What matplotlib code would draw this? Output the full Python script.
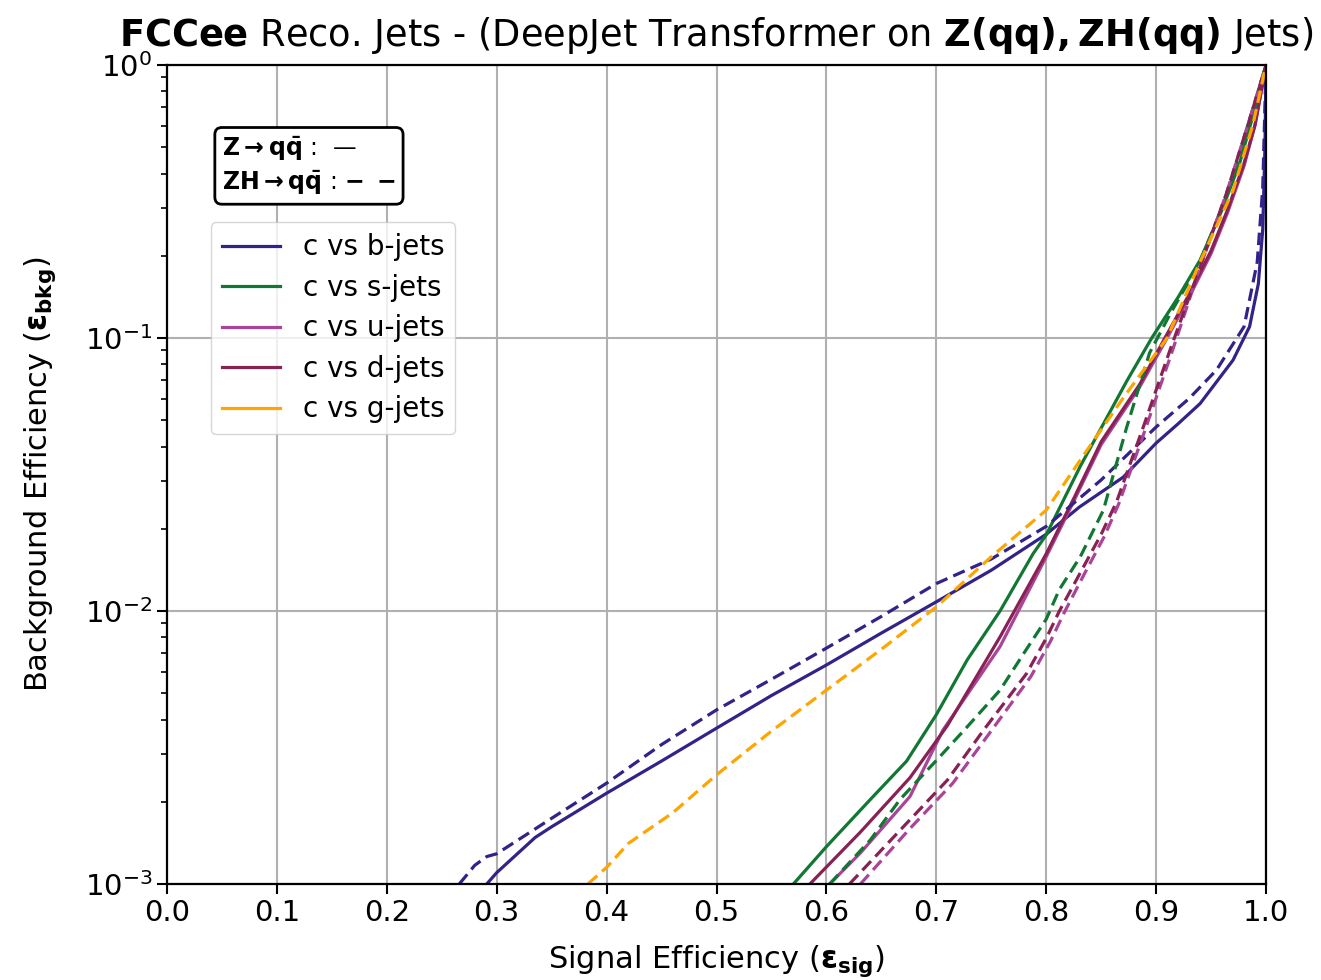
import matplotlib
matplotlib.use("Agg")
import matplotlib.pyplot as plt

# ---- data (signal efficiency, background efficiency) ----
# Z -> qq (solid)
b_z_sig = [0.291, 0.30, 0.335, 0.35, 0.40, 0.45, 0.50, 0.55, 0.60, 0.65, 0.70, 0.75, 0.80, 0.83, 0.87, 0.90, 0.92, 0.94, 0.97, 0.985, 0.993, 0.997, 0.999, 1.0]
b_z_bkg = [0.001, 0.0011, 0.00148, 0.00162, 0.00215, 0.00282, 0.00372, 0.0049, 0.00634, 0.0083, 0.0108, 0.0141, 0.0191, 0.024, 0.0309, 0.0412, 0.0485, 0.0575, 0.083, 0.11, 0.158, 0.25, 0.5, 1.0]

s_z_sig = [0.570, 0.60, 0.64, 0.673, 0.70, 0.728, 0.758, 0.788, 0.80, 0.831, 0.85, 0.873, 0.896, 0.92, 0.94, 0.96, 0.976, 0.992, 1.0]
s_z_bkg = [0.001, 0.00137, 0.00204, 0.00282, 0.00417, 0.00661, 0.01, 0.0162, 0.019, 0.0339, 0.0468, 0.0692, 0.1, 0.141, 0.193, 0.295, 0.437, 0.741, 1.0]

u_z_sig = [0.603, 0.631, 0.676, 0.706, 0.758, 0.80, 0.826, 0.85, 0.885, 0.91, 0.93, 0.95, 0.965, 0.98, 0.99, 1.0]
u_z_bkg = [0.001, 0.0013, 0.00209, 0.00366, 0.00741, 0.0158, 0.0257, 0.0407, 0.0661, 0.1, 0.141, 0.204, 0.288, 0.427, 0.603, 1.0]

d_z_sig = [0.585, 0.631, 0.676, 0.71, 0.758, 0.80, 0.826, 0.85, 0.885, 0.908, 0.93, 0.95, 0.965, 0.98, 0.99, 1.0]
d_z_bkg = [0.001, 0.00155, 0.00245, 0.0038, 0.00804, 0.0162, 0.0263, 0.0417, 0.0676, 0.1, 0.1445, 0.209, 0.295, 0.437, 0.603, 1.0]

# ZH -> qq (dashed)
b_zh_sig = [0.266, 0.28, 0.291, 0.30, 0.35, 0.40, 0.45, 0.50, 0.55, 0.60, 0.65, 0.70, 0.75, 0.80, 0.85, 0.90, 0.93, 0.955, 0.98, 0.992, 0.997, 1.0]
b_zh_bkg = [0.001, 0.00117, 0.00126, 0.00129, 0.00174, 0.00234, 0.00324, 0.00434, 0.00562, 0.00731, 0.00955, 0.0126, 0.0155, 0.0204, 0.0302, 0.0472, 0.06, 0.0764, 0.11, 0.19, 0.355, 1.0]

s_zh_sig = [0.603, 0.64, 0.667, 0.703, 0.728, 0.758, 0.782, 0.80, 0.812, 0.831, 0.852, 0.873, 0.894, 0.913, 0.94, 0.965, 0.985, 1.0]
s_zh_bkg = [0.001, 0.00145, 0.00204, 0.00292, 0.00376, 0.00513, 0.00724, 0.00933, 0.012, 0.0158, 0.0234, 0.0468, 0.0881, 0.123, 0.19, 0.339, 0.631, 1.0]

u_zh_sig = [0.631, 0.675, 0.715, 0.748, 0.786, 0.804, 0.816, 0.834, 0.853, 0.866, 0.89, 0.915, 0.94, 0.964, 0.985, 1.0]
u_zh_bkg = [0.001, 0.00158, 0.00234, 0.00355, 0.00575, 0.00776, 0.0098, 0.0135, 0.0188, 0.0247, 0.0461, 0.0903, 0.182, 0.339, 0.631, 1.0]

d_zh_sig = [0.621, 0.67, 0.71, 0.743, 0.782, 0.80, 0.812, 0.831, 0.85, 0.864, 0.888, 0.913, 0.94, 0.964, 0.985, 1.0]
d_zh_bkg = [0.001, 0.00162, 0.0024, 0.00366, 0.00589, 0.00794, 0.01, 0.0138, 0.0191, 0.0251, 0.0468, 0.0912, 0.182, 0.339, 0.631, 1.0]

g_zh_sig = [0.383, 0.40, 0.42, 0.46, 0.50, 0.55, 0.60, 0.65, 0.70, 0.75, 0.80, 0.834, 0.87, 0.91, 0.94, 0.97, 0.988, 1.0]
g_zh_bkg = [0.001, 0.00115, 0.00141, 0.00182, 0.00251, 0.00363, 0.00513, 0.00724, 0.01035, 0.0158, 0.0234, 0.0372, 0.0603, 0.1, 0.19, 0.347, 0.603, 1.0]

labels = ["c vs b-jets", "c vs s-jets", "c vs u-jets", "c vs d-jets", "c vs g-jets"]
colors = ["#332288", "#117733", "#AA4499", "#882255", "#FFA500"]
x_ticks = [0.0, 0.1, 0.2, 0.3, 0.4, 0.5, 0.6, 0.7, 0.8, 0.9, 1.0]

plt.rcParams['mathtext.fontset'] = 'dejavusans'
fig = plt.figure(figsize=(13.21, 9.8), dpi=100)
ax = fig.add_axes([0.1264, 0.098, 0.8320, 0.8357])

lw = 2.3
z_curves = [(b_z_sig, b_z_bkg), (s_z_sig, s_z_bkg), (u_z_sig, u_z_bkg), (d_z_sig, d_z_bkg)]
for (xs, ys), c, lab in zip(z_curves, colors[:4], labels[:4]):
    ax.plot(xs, ys, color=c, lw=lw, ls='-', label=lab)
# legend handle for g (solid)
ax.plot([], [], color=colors[4], lw=lw, ls='-', label=labels[4])

zh_curves = [(b_zh_sig, b_zh_bkg), (s_zh_sig, s_zh_bkg), (u_zh_sig, u_zh_bkg), (d_zh_sig, d_zh_bkg), (g_zh_sig, g_zh_bkg)]
for (xs, ys), c in zip(zh_curves, colors):
    ax.plot(xs, ys, color=c, lw=lw, ls=(0, (3.9, 2.0)))

ax.set_yscale('log')
ax.set_xlim(0, 1)
ax.set_ylim(1e-3, 1)
ax.set_xticks(x_ticks)
ax.set_xticklabels([f"{t:.1f}" for t in x_ticks])
ax.grid(True, which='major', color='#b0b0b0', lw=1.5)
ax.tick_params(axis='both', which='major', labelsize=21, length=7, width=1.5)
ax.tick_params(axis='y', which='minor', length=4, width=1.2)
for sp in ax.spines.values():
    sp.set_linewidth(1.6)

ax.set_xlabel(r"Signal Efficiency ($\mathbf{ε_{sig}}$)", fontsize=22, labelpad=12)
ax.set_ylabel(r"Background Efficiency ($\mathbf{ε_{bkg}}$)", fontsize=22, labelpad=19)
ax.set_title(r"$\bf{FCCee}$ Reco. Jets - (DeepJet Transformer on $\bf{Z(qq), ZH(qq)}$ Jets)",
             fontsize=26.5, pad=14)

leg = ax.legend(loc='upper left', bbox_to_anchor=(0.04, 0.808), borderaxespad=0,
                fontsize=20, handlelength=2.1, labelspacing=0.45)

ax.text(0.050, 0.915,
        r"$\bf{Z \rightarrow q\bar{q}}$ :  —" + "\n" + r"$\bf{ZH \rightarrow q\bar{q}}$ : $\bf{-\ -}$",
        transform=ax.transAxes, fontsize=17, va='top', ha='left', linespacing=1.3,
        bbox=dict(boxstyle='round,pad=0.3', facecolor='white', edgecolor='black', lw=2))

fig.savefig("out.png", dpi=100)
